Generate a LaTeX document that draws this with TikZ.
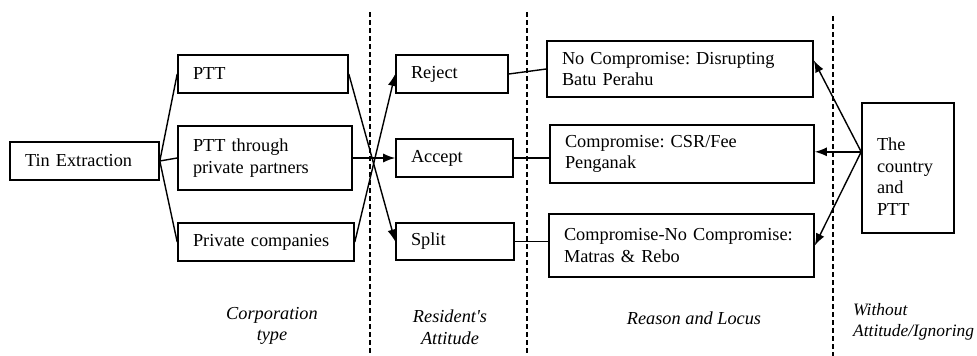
\documentclass[tikz,border=0pt]{standalone}
\usepackage{fontspec}
\setmainfont{Liberation Serif}
\usetikzlibrary{arrows.meta,calc}
\begin{document}
\frenchspacing
\begin{tikzpicture}[x=1pt,y=-1pt,
  every node/.style={font=\fontsize{18.3}{21.7}\selectfont},
  box/.style={draw,line width=1.6pt,inner xsep=15pt,inner ysep=0pt,align=left},
  conn/.style={line width=1.4pt},
  arr/.style={line width=1.4pt,-{Latex[length=12pt,width=9pt]}},
  divider/.style={line width=1.3pt,dash pattern=on 5pt off 3pt},
  lab/.style={font=\fontsize{18.3}{21.7}\selectfont\itshape,align=center}]
\useasboundingbox (0,0) rectangle (977,356);
% boxes
\node[box,minimum width=149pt,minimum height=38pt,text width=119pt] (tin) at (84.5,161) {Tin Extraction};
\node[box,minimum width=170pt,minimum height=38pt,text width=140pt] (ptt) at (263,74) {PTT};
\node[box,minimum width=174pt,minimum height=64pt,text width=144pt] (pttp) at (265,158) {PTT through\\private partners};
\node[box,minimum width=176pt,minimum height=38pt,text width=146pt] (priv) at (266,242) {Private companies};
\node[box,minimum width=112pt,minimum height=38pt,text width=82pt] (rej) at (452,74) {Reject};
\node[box,minimum width=117pt,minimum height=38pt,text width=87pt] (acc) at (454.5,158) {Accept};
\node[box,minimum width=118pt,minimum height=37pt,text width=88pt] (spl) at (455,241.5) {Split};
\node[box,minimum width=266pt,minimum height=56pt,text width=236pt] (r1) at (680,69) {No Compromise: Disrupting\\Batu Perahu};
\node[box,minimum width=264pt,minimum height=58pt,text width=234pt] (r2) at (682,154) {Compromise: CSR/Fee\\Penganak};
\node[box,minimum width=265pt,minimum height=63pt,text width=235pt] (r3) at (681.5,245.5) {Compromise-No Compromise:\\Matras \& Rebo};
\node[box,minimum width=92pt,minimum height=130pt,text width=62pt] (ctry) at (908,168) {\rule{0pt}{30pt}The\\country\\and\\PTT};
% dividers
\coordinate (d1t) at (370,12); \coordinate (d1b) at (370,356);
\coordinate (d2t) at (527,12); \coordinate (d2b) at (527,356);
\coordinate (d3t) at (833,16); \coordinate (d3b) at (833,356);
\draw[divider] (d1t) -- (d1b);
\draw[divider] (d2t) -- (d2b);
\draw[divider] (d3t) -- (d3b);
% fan
\draw[conn] (tin.east) -- (ptt.west);
\draw[conn] (tin.east) -- (pttp.west);
\draw[conn] (tin.east) -- (priv.west);
% to attitudes
\draw[arr] (ptt.east) -- (spl.west);
\draw[arr] (priv.east) -- (rej.west);
\draw[arr] (pttp.east) -- (acc.west);
% attitude to reason
\draw[conn] (rej.east) -- (r1.west);
\draw[conn] (acc.east) -- (acc.east -| r2.west);
\draw[conn] (spl.east) -- (spl.east -| r3.west);
% country arrows
\coordinate (cs) at ($(ctry.north west)!0.377!(ctry.south west)$);
\coordinate (t1) at ($(r1.north east)!0.35!(r1.south east)$);
\draw[arr] (cs) -- (t1);
\draw[arr] (cs) -- (cs -| r2.east);
\draw[arr] (cs) -- (r3.east);
% labels
\node[lab] (l1) at (272,326) {Corporation\\type};
\node[lab] (l2) at (450,327) {Resident\textquotesingle s\\Attitude};
\node[lab] (l3) at (694,318) {Reason and Locus};
\node[lab,align=left,anchor=west,inner xsep=0pt,font=\fontsize{17.4}{20.5}\selectfont\itshape] (l4) at (853,322) {Without\\Attitude/Ignoring};
\end{tikzpicture}
\end{document}
